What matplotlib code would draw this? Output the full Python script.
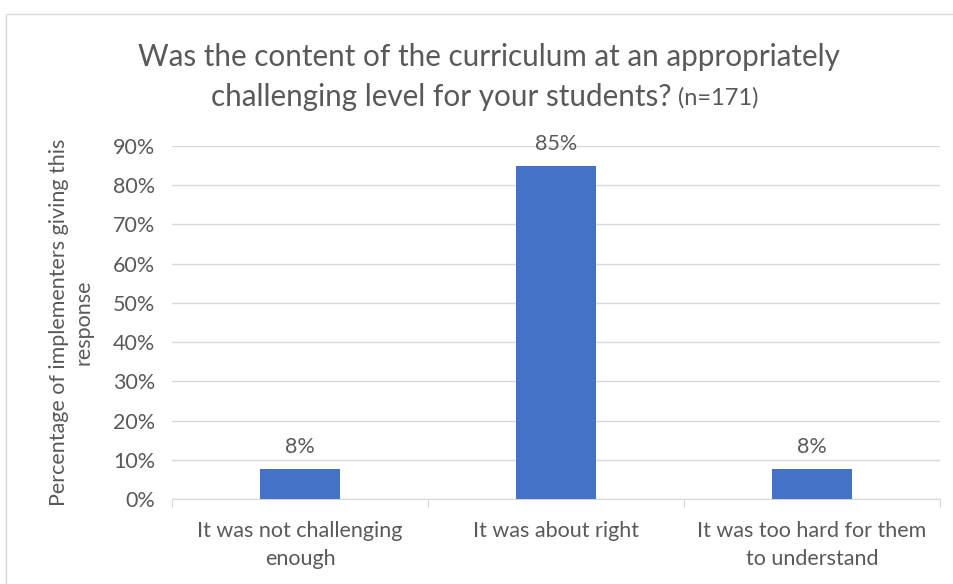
import matplotlib
matplotlib.use("Agg")
import matplotlib.pyplot as plt
from matplotlib.ticker import PercentFormatter
from matplotlib.patches import Rectangle

categories = ["It was not challenging\nenough", "It was about right",
              "It was too hard for them\nto understand"]
values = [7.6, 84.8, 7.6]
labels = ["8%", "85%", "8%"]

plt.rcParams['font.family'] = ['Lato', 'DejaVu Sans']
txt = '#595959'

fig = plt.figure(figsize=(9.54, 5.84), dpi=100)
ax = fig.add_axes([172 / 954, 85 / 584, 768 / 954, 353 / 584])

x = range(len(categories))
ax.bar(x, values, width=0.31, color='#4472C4', zorder=3)
for xi, v, lab in zip(x, values, labels):
    ax.annotate(lab, (xi, v), xytext=(0, 9), textcoords='offset points',
                ha='center', va='bottom', fontsize=15.5, color=txt)

ax.set_xlim(-0.5, 2.5)
ax.set_ylim(0, 90)
ax.set_yticks(range(0, 91, 10))
ax.yaxis.set_major_formatter(PercentFormatter(decimals=0))
ax.grid(axis='y', color='#D9D9D9', linewidth=1, zorder=0)
for s in ['top', 'right', 'left']:
    ax.spines[s].set_visible(False)
ax.spines['bottom'].set_color('#D9D9D9')
ax.tick_params(axis='y', length=0, labelsize=15.5, labelcolor=txt, pad=12)
ax.set_xticks([-0.5, 0.5, 1.5, 2.5], minor=False)
ax.set_xticklabels([])
ax.tick_params(axis='x', which='major', length=6, color='#D9D9D9')
ax.set_xticks(list(x), minor=True)
ax.set_xticklabels(categories, minor=True, fontsize=15.5, color=txt,
                   linespacing=1.5)
ax.tick_params(axis='x', which='minor', length=0, pad=16)

ax.set_ylabel("Percentage of implementers giving this\nresponse", fontsize=15.5,
              color=txt, labelpad=14, linespacing=1.3)

fig.text(489 / 954, 1 - 57 / 584, "Was the content of the curriculum at an appropriately",
         ha='center', va='center', fontsize=21.3, color=txt)
fig.text(672 / 954, 1 - 97 / 584, "challenging level for your students?",
         ha='right', va='center', fontsize=21.3, color=txt)
fig.text(678 / 954, 1 - 98 / 584, "(n=171)", ha='left', va='center',
         fontsize=17, color=txt)

fig.patches.append(Rectangle((6 / 954, -0.1), 1.1, 1 - 14 / 584 + 0.1,
                             transform=fig.transFigure, fill=False,
                             edgecolor='#D9D9D9', linewidth=1))

fig.savefig("out.png", dpi=100)
